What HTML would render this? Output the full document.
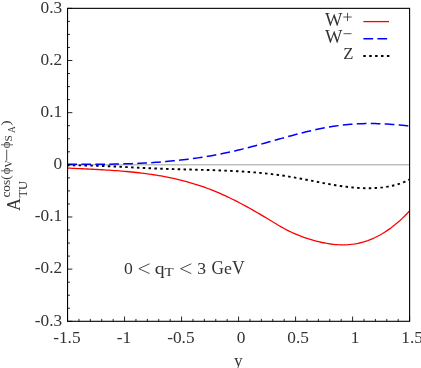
<!DOCTYPE html>
<html><head><meta charset="utf-8"><title>plot</title>
<style>html,body{margin:0;padding:0;background:#fff;}body{width:421px;height:368px;overflow:hidden;}svg{display:block;will-change:transform;}text{font-family:"Liberation Serif",serif;fill:#333333;}</style>
</head><body>
<svg width="421" height="368" viewBox="0 0 421 368">
<rect x="0" y="0" width="421" height="368" fill="#ffffff"/>
<line x1="67.55" y1="164.83" x2="409.6" y2="164.83" stroke="#a0a0a0" stroke-width="1"/>
<path d="M67.55,168.06 L70.01,168.18 L72.47,168.30 L74.93,168.42 L77.39,168.54 L79.85,168.65 L82.31,168.77 L84.78,168.89 L87.24,169.01 L89.70,169.12 L92.16,169.25 L94.62,169.37 L97.08,169.50 L99.54,169.63 L102.00,169.77 L104.46,169.91 L106.92,170.06 L109.38,170.21 L111.84,170.37 L114.31,170.54 L116.77,170.72 L119.23,170.90 L121.69,171.10 L124.15,171.30 L126.61,171.52 L129.07,171.74 L131.53,171.98 L133.99,172.23 L136.45,172.49 L138.91,172.77 L141.37,173.06 L143.83,173.37 L146.30,173.69 L148.76,174.03 L151.22,174.38 L153.68,174.75 L156.14,175.14 L158.60,175.55 L161.06,175.98 L163.52,176.42 L165.98,176.89 L168.44,177.38 L170.90,177.88 L173.36,178.42 L175.82,178.97 L178.29,179.54 L180.75,180.15 L183.21,180.77 L185.67,181.42 L188.13,182.09 L190.59,182.80 L193.05,183.52 L195.51,184.28 L197.97,185.06 L200.43,185.88 L202.89,186.72 L205.35,187.59 L207.82,188.49 L210.28,189.42 L212.74,190.39 L215.20,191.38 L217.66,192.41 L220.12,193.47 L222.58,194.56 L225.04,195.68 L227.50,196.83 L229.96,198.01 L232.42,199.21 L234.88,200.44 L237.34,201.70 L239.81,202.97 L242.27,204.27 L244.73,205.59 L247.19,206.93 L249.65,208.29 L252.11,209.67 L254.57,211.07 L257.03,212.48 L259.49,213.91 L261.95,215.35 L264.41,216.82 L266.87,218.29 L269.33,219.79 L271.80,221.30 L274.26,222.81 L276.72,224.31 L279.18,225.77 L281.64,227.18 L284.10,228.53 L286.56,229.83 L289.02,231.06 L291.48,232.24 L293.94,233.36 L296.40,234.42 L298.86,235.44 L301.33,236.39 L303.79,237.30 L306.25,238.15 L308.71,238.96 L311.17,239.71 L313.63,240.42 L316.09,241.07 L318.55,241.68 L321.01,242.25 L323.47,242.76 L325.93,243.23 L328.39,243.64 L330.85,244.00 L333.32,244.29 L335.78,244.53 L338.24,244.70 L340.70,244.80 L343.16,244.82 L345.62,244.78 L348.08,244.65 L350.54,244.44 L353.00,244.15 L355.46,243.77 L357.92,243.31 L360.38,242.75 L362.84,242.11 L365.31,241.37 L367.77,240.54 L370.23,239.62 L372.69,238.60 L375.15,237.48 L377.61,236.26 L380.07,234.95 L382.53,233.53 L384.99,232.01 L387.45,230.38 L389.91,228.65 L392.37,226.82 L394.84,224.87 L397.30,222.81 L399.76,220.65 L402.22,218.37 L404.68,215.97 L407.14,213.46 L409.60,210.84" fill="none" stroke="#ff0000" stroke-width="1.3"/>
<path d="M67.55,165.39 L70.01,165.37 L72.47,165.36 L74.93,165.36 L77.39,165.37 L79.85,165.39 L82.31,165.43 L84.78,165.46 L87.24,165.51 L89.70,165.57 L92.16,165.63 L94.62,165.70 L97.08,165.78 L99.54,165.87 L102.00,165.96 L104.46,166.05 L106.92,166.15 L109.38,166.26 L111.84,166.37 L114.31,166.48 L116.77,166.59 L119.23,166.71 L121.69,166.83 L124.15,166.95 L126.61,167.08 L129.07,167.20 L131.53,167.33 L133.99,167.45 L136.45,167.58 L138.91,167.70 L141.37,167.82 L143.83,167.94 L146.30,168.06 L148.76,168.18 L151.22,168.29 L153.68,168.40 L156.14,168.50 L158.60,168.60 L161.06,168.69 L163.52,168.78 L165.98,168.87 L168.44,168.95 L170.90,169.03 L173.36,169.10 L175.82,169.17 L178.29,169.24 L180.75,169.31 L183.21,169.37 L185.67,169.43 L188.13,169.50 L190.59,169.56 L193.05,169.62 L195.51,169.68 L197.97,169.75 L200.43,169.81 L202.89,169.88 L205.35,169.95 L207.82,170.02 L210.28,170.09 L212.74,170.17 L215.20,170.25 L217.66,170.34 L220.12,170.43 L222.58,170.52 L225.04,170.62 L227.50,170.73 L229.96,170.84 L232.42,170.96 L234.88,171.09 L237.34,171.22 L239.81,171.37 L242.27,171.52 L244.73,171.68 L247.19,171.85 L249.65,172.03 L252.11,172.22 L254.57,172.42 L257.03,172.63 L259.49,172.85 L261.95,173.09 L264.41,173.33 L266.87,173.59 L269.33,173.86 L271.80,174.15 L274.26,174.45 L276.72,174.77 L279.18,175.10 L281.64,175.44 L284.10,175.80 L286.56,176.18 L289.02,176.57 L291.48,176.98 L293.94,177.41 L296.40,177.85 L298.86,178.30 L301.33,178.76 L303.79,179.23 L306.25,179.71 L308.71,180.19 L311.17,180.68 L313.63,181.16 L316.09,181.65 L318.55,182.13 L321.01,182.60 L323.47,183.07 L325.93,183.54 L328.39,183.99 L330.85,184.42 L333.32,184.85 L335.78,185.26 L338.24,185.64 L340.70,186.01 L343.16,186.36 L345.62,186.68 L348.08,186.98 L350.54,187.25 L353.00,187.49 L355.46,187.70 L357.92,187.88 L360.38,188.02 L362.84,188.12 L365.31,188.18 L367.77,188.21 L370.23,188.19 L372.69,188.12 L375.15,188.01 L377.61,187.85 L380.07,187.64 L382.53,187.38 L384.99,187.06 L387.45,186.68 L389.91,186.23 L392.37,185.71 L394.84,185.11 L397.30,184.42 L399.76,183.63 L402.22,182.75 L404.68,181.77 L407.14,180.67 L409.60,179.46" fill="none" stroke="#000000" stroke-width="1.9" stroke-dasharray="2.5,3.33" stroke-dashoffset="0.55"/>
<path d="M67.55,164.15 L70.01,164.18 L72.47,164.20 L74.93,164.23 L77.39,164.25 L79.85,164.26 L82.31,164.28 L84.78,164.29 L87.24,164.30 L89.70,164.30 L92.16,164.30 L94.62,164.30 L97.08,164.29 L99.54,164.28 L102.00,164.26 L104.46,164.24 L106.92,164.22 L109.38,164.18 L111.84,164.15 L114.31,164.10 L116.77,164.06 L119.23,164.00 L121.69,163.94 L124.15,163.87 L126.61,163.80 L129.07,163.72 L131.53,163.63 L133.99,163.54 L136.45,163.43 L138.91,163.32 L141.37,163.20 L143.83,163.08 L146.30,162.94 L148.76,162.80 L151.22,162.65 L153.68,162.49 L156.14,162.32 L158.60,162.14 L161.06,161.96 L163.52,161.76 L165.98,161.55 L168.44,161.33 L170.90,161.11 L173.36,160.87 L175.82,160.62 L178.29,160.36 L180.75,160.09 L183.21,159.81 L185.67,159.51 L188.13,159.21 L190.59,158.89 L193.05,158.56 L195.51,158.22 L197.97,157.87 L200.43,157.50 L202.89,157.12 L205.35,156.73 L207.82,156.32 L210.28,155.90 L212.74,155.47 L215.20,155.02 L217.66,154.56 L220.12,154.09 L222.58,153.60 L225.04,153.09 L227.50,152.57 L229.96,152.04 L232.42,151.49 L234.88,150.92 L237.34,150.34 L239.81,149.75 L242.27,149.14 L244.73,148.52 L247.19,147.88 L249.65,147.24 L252.11,146.59 L254.57,145.92 L257.03,145.25 L259.49,144.58 L261.95,143.90 L264.41,143.21 L266.87,142.52 L269.33,141.83 L271.80,141.13 L274.26,140.44 L276.72,139.75 L279.18,139.06 L281.64,138.37 L284.10,137.68 L286.56,137.00 L289.02,136.33 L291.48,135.66 L293.94,135.00 L296.40,134.35 L298.86,133.70 L301.33,133.07 L303.79,132.46 L306.25,131.85 L308.71,131.26 L311.17,130.68 L313.63,130.12 L316.09,129.58 L318.55,129.05 L321.01,128.54 L323.47,128.06 L325.93,127.59 L328.39,127.15 L330.85,126.73 L333.32,126.33 L335.78,125.96 L338.24,125.62 L340.70,125.30 L343.16,125.01 L345.62,124.75 L348.08,124.52 L350.54,124.31 L353.00,124.13 L355.46,123.98 L357.92,123.85 L360.38,123.75 L362.84,123.67 L365.31,123.61 L367.77,123.58 L370.23,123.57 L372.69,123.58 L375.15,123.62 L377.61,123.67 L380.07,123.75 L382.53,123.85 L384.99,123.97 L387.45,124.10 L389.91,124.26 L392.37,124.43 L394.84,124.62 L397.30,124.83 L399.76,125.06 L402.22,125.30 L404.68,125.55 L407.14,125.83 L409.60,126.11" fill="none" stroke="#0000ff" stroke-width="1.5" stroke-dasharray="9.7,4.28" stroke-dashoffset="0.2"/>
<rect x="67.55" y="8.35" width="342.05" height="312.95" fill="none" stroke="#000" stroke-width="1.1"/>
<path d="M67.55,321.3 v-4.8 M78.95,321.3 v-2.4 M90.35,321.3 v-2.4 M101.75,321.3 v-2.4 M113.16,321.3 v-2.4 M124.56,321.3 v-4.8 M135.96,321.3 v-2.4 M147.36,321.3 v-2.4 M158.76,321.3 v-2.4 M170.16,321.3 v-2.4 M181.57,321.3 v-4.8 M192.97,321.3 v-2.4 M204.37,321.3 v-2.4 M215.77,321.3 v-2.4 M227.17,321.3 v-2.4 M238.57,321.3 v-4.8 M249.98,321.3 v-2.4 M261.38,321.3 v-2.4 M272.78,321.3 v-2.4 M284.18,321.3 v-2.4 M295.58,321.3 v-4.8 M306.99,321.3 v-2.4 M318.39,321.3 v-2.4 M329.79,321.3 v-2.4 M341.19,321.3 v-2.4 M352.59,321.3 v-4.8 M363.99,321.3 v-2.4 M375.40,321.3 v-2.4 M386.80,321.3 v-2.4 M398.20,321.3 v-2.4 M409.60,321.3 v-4.8 M67.55,321.30 h4.8 M67.55,308.26 h2.4 M67.55,295.22 h2.4 M67.55,282.18 h2.4 M67.55,269.14 h4.8 M67.55,256.10 h2.4 M67.55,243.06 h2.4 M67.55,230.02 h2.4 M67.55,216.98 h4.8 M67.55,203.94 h2.4 M67.55,190.90 h2.4 M67.55,177.86 h2.4 M67.55,164.82 h4.8 M67.55,151.79 h2.4 M67.55,138.75 h2.4 M67.55,125.71 h2.4 M67.55,112.67 h4.8 M67.55,99.63 h2.4 M67.55,86.59 h2.4 M67.55,73.55 h2.4 M67.55,60.51 h4.8 M67.55,47.47 h2.4 M67.55,34.43 h2.4 M67.55,21.39 h2.4 M67.55,8.35 h4.8" fill="none" stroke="#000" stroke-width="0.85"/>
<text transform="translate(66.85,342.60) scale(1.05,1)" font-size="16.5" text-anchor="middle">-1.5</text>
<text transform="translate(123.86,342.60) scale(1.05,1)" font-size="16.5" text-anchor="middle">-1</text>
<text transform="translate(180.87,342.60) scale(1.05,1)" font-size="16.5" text-anchor="middle">-0.5</text>
<text transform="translate(241.07,342.60) scale(1.05,1)" font-size="16.5" text-anchor="middle">0</text>
<text transform="translate(298.08,342.60) scale(1.05,1)" font-size="16.5" text-anchor="middle">0.5</text>
<text transform="translate(355.09,342.60) scale(1.05,1)" font-size="16.5" text-anchor="middle">1</text>
<text transform="translate(412.10,342.60) scale(1.05,1)" font-size="16.5" text-anchor="middle">1.5</text>
<text transform="translate(62.20,12.65) scale(1.05,1)" font-size="16.5" text-anchor="end">0.3</text>
<text transform="translate(62.20,64.81) scale(1.05,1)" font-size="16.5" text-anchor="end">0.2</text>
<text transform="translate(62.20,116.97) scale(1.05,1)" font-size="16.5" text-anchor="end">0.1</text>
<text transform="translate(62.20,169.13) scale(1.05,1)" font-size="16.5" text-anchor="end">0</text>
<text transform="translate(62.20,221.28) scale(1.05,1)" font-size="16.5" text-anchor="end">-0.1</text>
<text transform="translate(62.20,273.44) scale(1.05,1)" font-size="16.5" text-anchor="end">-0.2</text>
<text transform="translate(62.20,325.60) scale(1.05,1)" font-size="16.5" text-anchor="end">-0.3</text>
<text transform="translate(238.20,365.50) scale(1.05,1)" font-size="16.5" text-anchor="middle">y</text>
<text transform="translate(123.90,273.70) scale(1.07,1)" font-size="16.5" text-anchor="start">0</text>
<text transform="translate(154.70,273.70) scale(1.16,1)" font-size="17" text-anchor="start">q</text>
<text transform="translate(164.50,276.20) scale(1.3,1)" font-size="11.5" text-anchor="start">T</text>
<text transform="translate(197.20,273.70) scale(1.07,1)" font-size="16.5" text-anchor="start">3</text>
<text transform="translate(211.50,273.70) scale(0.97,1)" font-size="17.8" text-anchor="start">G</text>
<text transform="translate(224.00,273.70) scale(1.08,1)" font-size="16.5" text-anchor="start">e</text>
<text transform="translate(232.10,273.70) scale(0.99,1)" font-size="17.8" text-anchor="start">V</text>
<path d="M149.6,263.8 L138.9,268.7 L149.6,273.6 M191.3,263.8 L180.6,268.7 L191.3,273.6" fill="none" stroke="#2a2a2a" stroke-width="0.85"/>
<text transform="translate(325.10,25.80) scale(1.04,1)" font-size="17.8" text-anchor="start">W</text>
<text transform="translate(325.10,42.70) scale(1.04,1)" font-size="17.8" text-anchor="start">W</text>
<text transform="translate(343.30,59.30) scale(0.98,1)" font-size="17" text-anchor="start">Z</text>
<path d="M343.3,17 h8.4 M347.5,12.9 v8.2 M343.5,33.7 h8" fill="none" stroke="#2a2a2a" stroke-width="0.8"/>
<line x1="363.4" y1="21.6" x2="389" y2="21.6" stroke="#ff0000" stroke-width="1.3"/>
<line x1="363.4" y1="38.8" x2="389" y2="38.8" stroke="#0000ff" stroke-width="1.5" stroke-dasharray="9.7,4.3"/>
<line x1="363.3" y1="55.95" x2="389.4" y2="55.95" stroke="#000" stroke-width="1.9" stroke-dasharray="2.5,3.4"/>
<g transform="translate(20,210.8) rotate(-90)">
<text transform="translate(-0.30,0.00) scale(0.96,1)" font-size="18.6" text-anchor="start">A</text>
<text transform="translate(13.30,6.60) scale(0.97,1)" font-size="12.8" text-anchor="start">TU</text>
<text transform="translate(13.20,-9.80) scale(1.12,1)" font-size="12" text-anchor="start">cos(</text>
<text transform="translate(36.60,-9.80) scale(1.05,1)" font-size="12" text-anchor="start">ϕ</text>
<text transform="translate(43.30,-8.00) scale(0.98,1)" font-size="10.3" text-anchor="start">V</text>
<path d="M50.2,-13.3 H61.2" fill="none" stroke="#2a2a2a" stroke-width="0.8"/>
<text transform="translate(62.60,-9.80) scale(1.05,1)" font-size="12" text-anchor="start">ϕ</text>
<text transform="translate(69.40,-8.00) scale(1.1,1)" font-size="10.3" text-anchor="start">S</text>
<text transform="translate(77.80,-5.00) scale(0.98,1)" font-size="9.8" text-anchor="start">A</text>
<text transform="translate(85.00,-9.60) scale(1.3,1)" font-size="12.8" text-anchor="start">)</text>
</g>
</svg></body></html>
